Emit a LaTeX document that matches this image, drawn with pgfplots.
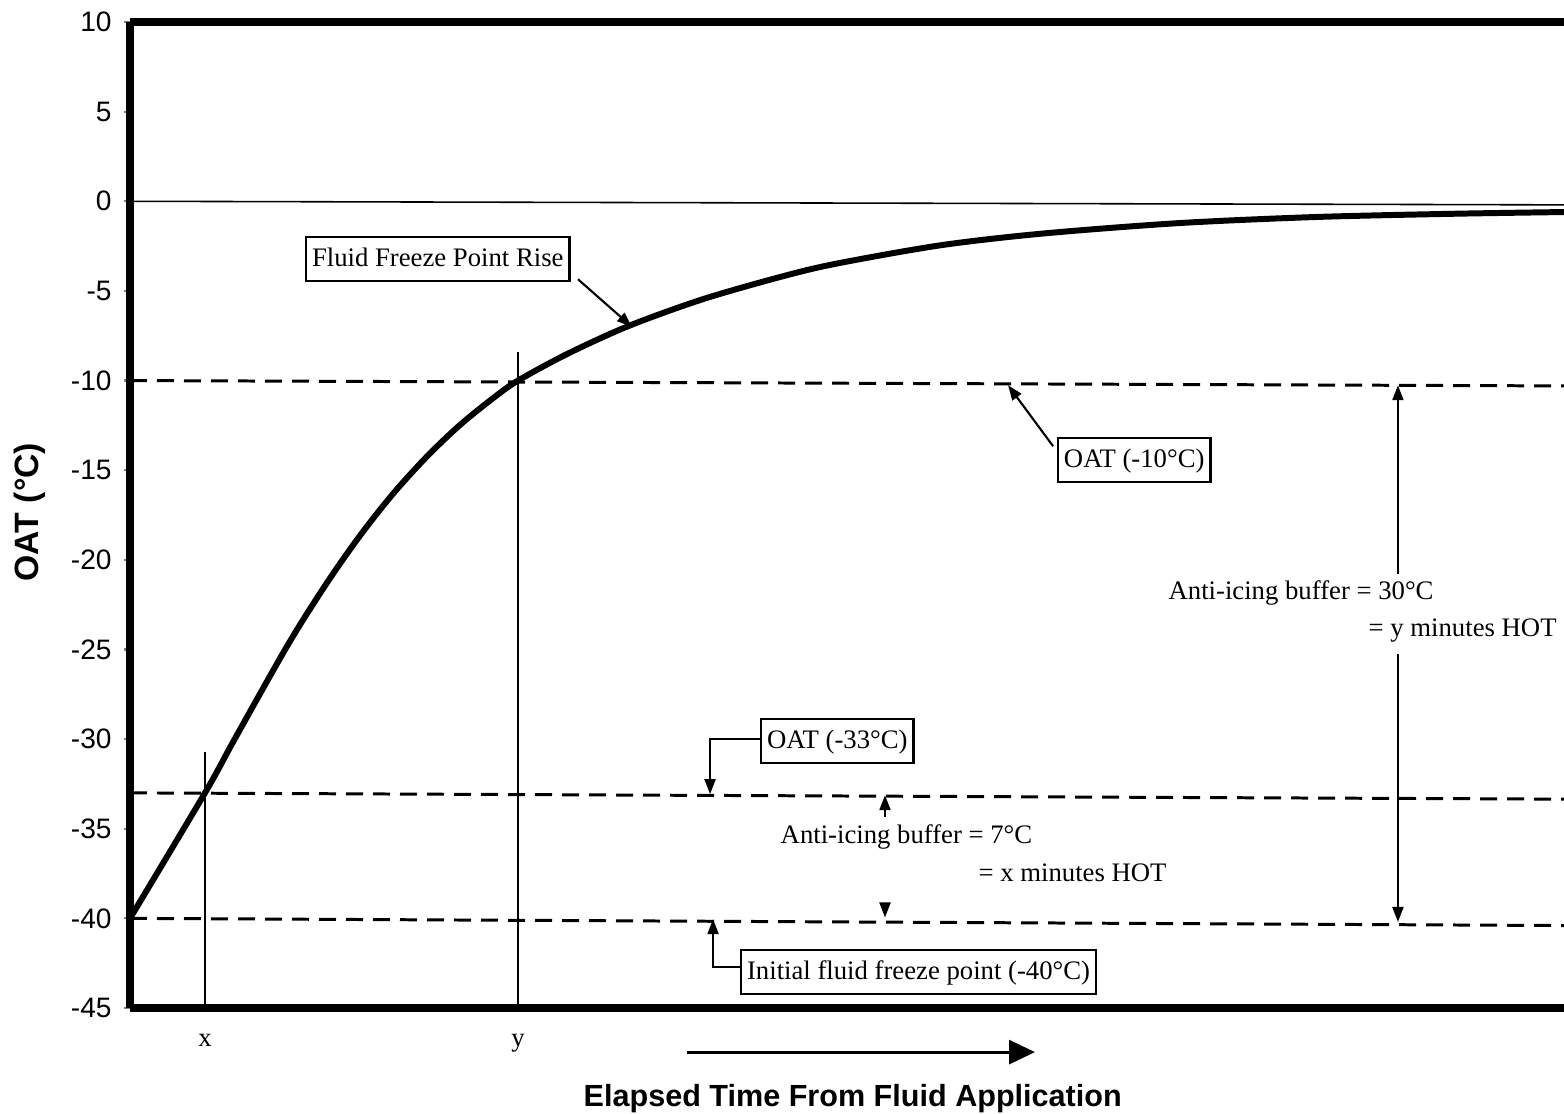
\documentclass[border=0pt]{standalone}
\usepackage{fontspec}
\setmainfont{Liberation Serif}
\setsansfont{Liberation Sans}
\usepackage{pgfplots}
\pgfplotsset{compat=1.18}
\usetikzlibrary{arrows.meta}

\begin{document}
\begin{tikzpicture}[
  note/.style={font=\fontsize{7.6}{9}\selectfont, inner sep=0pt, anchor=west},
  bx/.style={draw, line width=0.6pt, font=\fontsize{7.6}{9}\selectfont, inner xsep=0.06cm, inner ysep=0.08cm, text height=0.22cm, text depth=0.06cm, anchor=west},
  tip/.style={line width=0.6pt, -{Triangle[length=0.15cm,width=0.11cm]}},
  dsh/.style={line width=0.85pt, dash pattern=on 0.17cm off 0.1cm}
]
\begin{axis}[
  scale only axis, width=14.34cm, height=9.86cm,
  xmin=0, xmax=100, ymin=-45, ymax=10,
  axis x line*=box, axis y line*=left,
  axis line style={line width=2pt},
  clip=false,
  ytick={-45,-40,...,10},
  tick align=outside, major tick length=0.06cm,
  ytick style={line width=0.6pt},
  yticklabel style={font=\sffamily\fontsize{8}{9}\selectfont},
  /pgf/number format/assume math mode=true,
  xtick={5.23,27.06}, xticklabels={x,y},
  xtick style={draw=none},
  xticklabel style={font=\fontsize{7.6}{9}\selectfont, anchor=base, yshift=-0.32cm},
  ylabel={OAT (°C)},
  ylabel style={font=\sffamily\bfseries\fontsize{9.6}{11}\selectfont, at={(axis description cs:-0.0697,0.503)}, anchor=center},
  xlabel={Elapsed Time From Fluid Application},
  xlabel style={font=\sffamily\bfseries\fontsize{8.7}{11}\selectfont, at={(axis description cs:0.504,0)}, anchor=base, yshift=-0.98cm},
]
% reference lines
\addplot[line width=0.45pt] coordinates {(0,0) (100,-0.2)};
\addplot[dsh] coordinates {(0,-10) (100,-10.3)};
\addplot[dsh] coordinates {(0,-33) (100,-33.35)};
\addplot[dsh] coordinates {(0,-40) (100,-40.4)};
% x and y markers
\addplot[line width=0.6pt] coordinates {(5.23,-45) (5.23,-30.7)};
\addplot[line width=0.6pt] coordinates {(27.06,-45) (27.06,-8.4)};
% fluid freeze point
\addplot[line width=1.7pt, smooth] coordinates {
(0,-40) (5.23,-33.0) (7.3,-30.0) (11.04,-24.7) (13.72,-21.3) (16.04,-18.65)
(18.36,-16.3) (20.69,-14.25) (22.98,-12.5) (25.34,-10.97) (27.06,-10)
(30.53,-8.5) (34.79,-6.95) (39.99,-5.45) (45.68,-4.15) (49.44,-3.45)
(56.56,-2.45) (63.65,-1.8) (73.08,-1.22) (82.57,-0.88) (92.05,-0.7) (100,-0.6)};

% annotations
\node[bx] at (axis cs:12.2,-3.2) {Fluid Freeze Point Rise};
\draw[tip] (axis cs:31.24,-4.35) -- (axis cs:35.0,-7.0);

\node[bx] at (axis cs:64.64,-14.42) {OAT (-10°C)};
\draw[tip] (axis cs:64.37,-13.66) -- (axis cs:61.23,-10.26);

\node[bx] at (axis cs:43.93,-30.09) {OAT (-33°C)};
\draw[tip] (axis cs:43.93,-30.0) -- (axis cs:40.45,-30.0) -- (axis cs:40.45,-33.07);

\node[bx] at (axis cs:42.54,-42.97) {Initial fluid freeze point (-40°C)};
\draw[tip] (axis cs:42.54,-42.72) -- (axis cs:40.66,-42.72) -- (axis cs:40.66,-40.04);

\node[note] at (axis cs:45.33,-35.47) {Anti-icing buffer = 7°C};
\node[note] at (axis cs:59.13,-37.48) {= x minutes HOT};
\draw[tip] (axis cs:52.65,-34.36) -- (axis cs:52.65,-33.13);
\draw[tip] (axis cs:52.65,-39.2) -- (axis cs:52.65,-39.95);

\node[note] at (axis cs:72.38,-21.86) {Anti-icing buffer = 30°C};
\node[note] at (axis cs:86.33,-23.93) {= y minutes HOT};
\draw[tip] (axis cs:88.42,-20.8) -- (axis cs:88.42,-10.26);
\draw[tip] (axis cs:88.42,-25.27) -- (axis cs:88.42,-40.2);

\draw[line width=0.85pt, -{Triangle[length=0.26cm,width=0.24cm]}] (axis cs:38.84,-47.46) -- (axis cs:63.11,-47.46);
\end{axis}
\pgfresetboundingbox
\path (-1.30cm,-1.06cm) rectangle (14.34cm,10.08cm);
\end{tikzpicture}
\end{document}
